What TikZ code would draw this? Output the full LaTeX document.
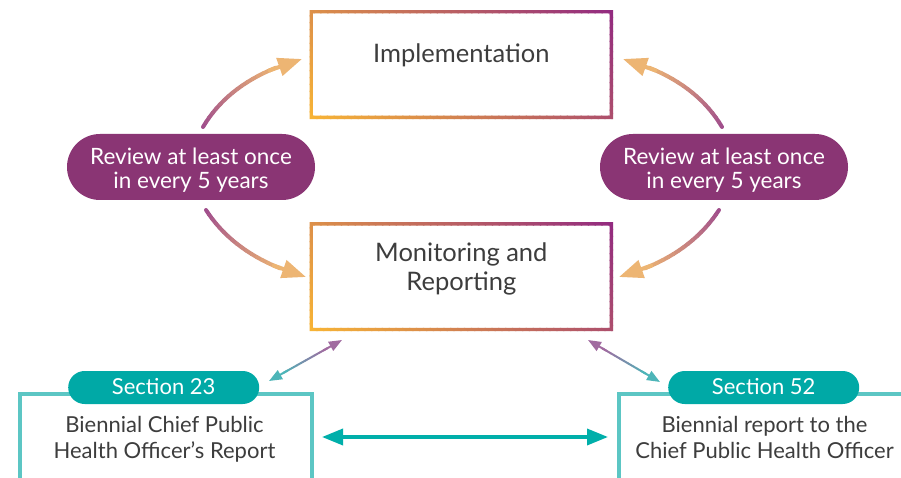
\documentclass[tikz,border=0pt]{standalone}
\usepackage{fontspec}
\setmainfont{Lato}
\usetikzlibrary{arrows.meta,calc}
\definecolor{txt}{HTML}{3D3D3D}
\definecolor{plum}{HTML}{8A3574}
\definecolor{fgold}{HTML}{F8B535}
\definecolor{fpurp}{HTML}{922A80}
\definecolor{arS}{HTML}{A14F8C}
\definecolor{arE}{HTML}{EDB573}
\definecolor{tealD}{HTML}{00A9A6}
\definecolor{tealL}{HTML}{5CC6C4}
\definecolor{tealA}{HTML}{00AFAA}
\definecolor{lnP}{HTML}{A16BA0}
\definecolor{lnT}{HTML}{4DB5B8}
\tikzset{
  gbox/.style={rectangle, inner sep=0pt, minimum width=303pt, minimum height=108.5pt},
  review/.style={fill=plum, rounded corners=33pt, minimum width=248pt, minimum height=66pt, inner sep=0pt},
  sect/.style={fill=tealD, rounded corners=16.5pt, minimum width=191pt, minimum height=33pt, inner sep=0pt},
  rptbox/.style={draw=tealL, line width=4pt, inner sep=0pt, minimum width=292.3pt, minimum height=120pt, anchor=north west},
  bigtxt/.style={text=txt, font=\fontsize{25.5}{29.7}\selectfont, align=center, inner sep=0pt},
  pilltxt/.style={text=white, font=\fontsize{22.5}{23.3}\selectfont, align=center, inner sep=0pt},
  smalltxt/.style={text=txt, font=\fontsize{22}{25.7}\selectfont, align=center, inner sep=0pt},
  sectxt/.style={text=white, font=\fontsize{22}{26}\selectfont, inner sep=0pt},
  arrowline/.style={line width=4pt, line cap=round},
  thinline/.style={line width=2pt, line cap=round},
}
% frame of a box with a 45-degree gradient, gold at bottom left to purple at top right
\newcommand\gframe[1]{%
  \begin{scope}[even odd rule]
    \clip (#1.south west) rectangle (#1.north east)
      ([shift={(3.3,-3.3)}]#1.south west) rectangle ([shift={(-3.3,3.3)}]#1.north east);
    \begin{scope}[shift={(#1.south west)}]
      \foreach \i in {0,...,59}{%
        \pgfmathsetmacro\gfa{\i*6.8583}\pgfmathsetmacro\gfb{\i*6.8583+7.8583}%
        \pgfmathsetmacro\gfc{(\i+0.5)*1.66667}%
        \fill[fpurp!\gfc!fgold] (\gfa+5,5) -- (\gfb+5,5) -- (\gfb-113.5,-113.5) -- (\gfa-113.5,-113.5) -- cycle;}
    \end{scope}
  \end{scope}}
\newcommand\curvearrow[3]{%
  \foreach \k in {0,...,20}{%
    \pgfmathsetmacro\gt{\k/20}%
    \coordinate (cq\k) at ($($(#1)!\gt!(#2)$)!\gt!($(#2)!\gt!(#3)$)$);}%
  \foreach \i [count=\j from 1, evaluate=\i as \pc using 100*\i/16] in {0,...,15}{%
    \draw[arrowline, color=arE!\pc!arS] (cq\i) -- (cq\j);}%
  \draw[arrowline, arE, -{Triangle[length=24pt,width=18pt]}] (cq15) -- (#3);}
\newcommand\dblgrad[2]{%
  \foreach \i [count=\j from 1, evaluate=\i as \pc using 100*\i/10] in {0,...,9}{%
    \pgfmathsetmacro\ga{0.2+0.06*\i}\pgfmathsetmacro\gb{0.2+0.06*\j}%
    \draw[thinline, color=lnT!\pc!lnP] ($(#1)!\ga!(#2)$) -- ($(#1)!\gb!(#2)$);}%
  \draw[thinline, lnP, -{Triangle[length=13pt,width=10pt]}] ($(#1)!0.25!(#2)$) -- (#1);
  \draw[thinline, lnT, -{Triangle[length=13pt,width=10pt]}] ($(#1)!0.75!(#2)$) -- (#2);}
\begin{document}
\begin{tikzpicture}[x=1pt,y=-1pt]
\useasboundingbox (0,0) rectangle (901,478);
\clip (0,0) rectangle (901,478);
\fill[white] (0,0) rectangle (901,478);

% gradient-framed boxes
\node[gbox] (impl) at (461.3,64.6) {};
\node[gbox] (mon) at (461.3,276.7) {};
\gframe{impl}
\gframe{mon}
\node[bigtxt, anchor=base] (implt) at (461.3,62.7) {Implementation};
\node[bigtxt, anchor=base] (mont) at (461.3,290.7) {Monitoring and\\Reporting};

% review pills
\node[review] (revL) at (191,167) {};
\node[review] (revR) at (724,167) {};
\node[pilltxt, anchor=base] (revLt) at (191,188.3) {Review at least once\\in every 5 years};
\node[pilltxt, anchor=base] (revRt) at (724,188.3) {Review at least once\\in every 5 years};

% curved arrows
\coordinate (a1s) at (203,127); \coordinate (a1c) at (232,78); \coordinate (a1e) at (302,59);
\coordinate (a2s) at (206,210); \coordinate (a2c) at (237,258); \coordinate (a2e) at (306,277);
\coordinate (a3s) at (722,127); \coordinate (a3c) at (693,78); \coordinate (a3e) at (623,59);
\coordinate (a4s) at (719,210); \coordinate (a4c) at (688,258); \coordinate (a4e) at (619,277);
\curvearrow{a1s}{a1c}{a1e}
\curvearrow{a2s}{a2c}{a2e}
\curvearrow{a3s}{a3c}{a3e}
\curvearrow{a4s}{a4c}{a4e}

% report boxes
\node[rptbox] (rL) at (18,392) {};
\node[rptbox, minimum width=300pt] (rR) at (617,392) {};
\node[sect] (s23) at (163.7,387.5) {};
\node[sect] (s52) at (763.7,387.5) {};
\node[sectxt, anchor=base] (s23t) at (163.7,394.3) {Section 23};
\node[sectxt, anchor=base] (s52t) at (763.7,394.3) {Section 52};
\node[smalltxt, anchor=base] (rLt) at (164.5,458.3) {Biennial Chief Public\\Health Officer’s Report};
\node[smalltxt, anchor=base] (rRt) at (764.5,458.3) {Biennial report to the\\Chief Public Health Officer};

% diagonal double arrows
\coordinate (d1p) at (342,340); \coordinate (d1t) at (269,381);
\coordinate (d2p) at (588,340); \coordinate (d2t) at (660,382);
\dblgrad{d1p}{d1t}
\dblgrad{d2p}{d2t}

% horizontal double arrow
\coordinate (h1) at (322,437); \coordinate (h2) at (608,437);
\draw[tealA, line width=3.5pt, {Triangle[length=21pt,width=16pt]}-{Triangle[length=21pt,width=16pt]}] (h1) -- (h2);
\end{tikzpicture}
\end{document}
